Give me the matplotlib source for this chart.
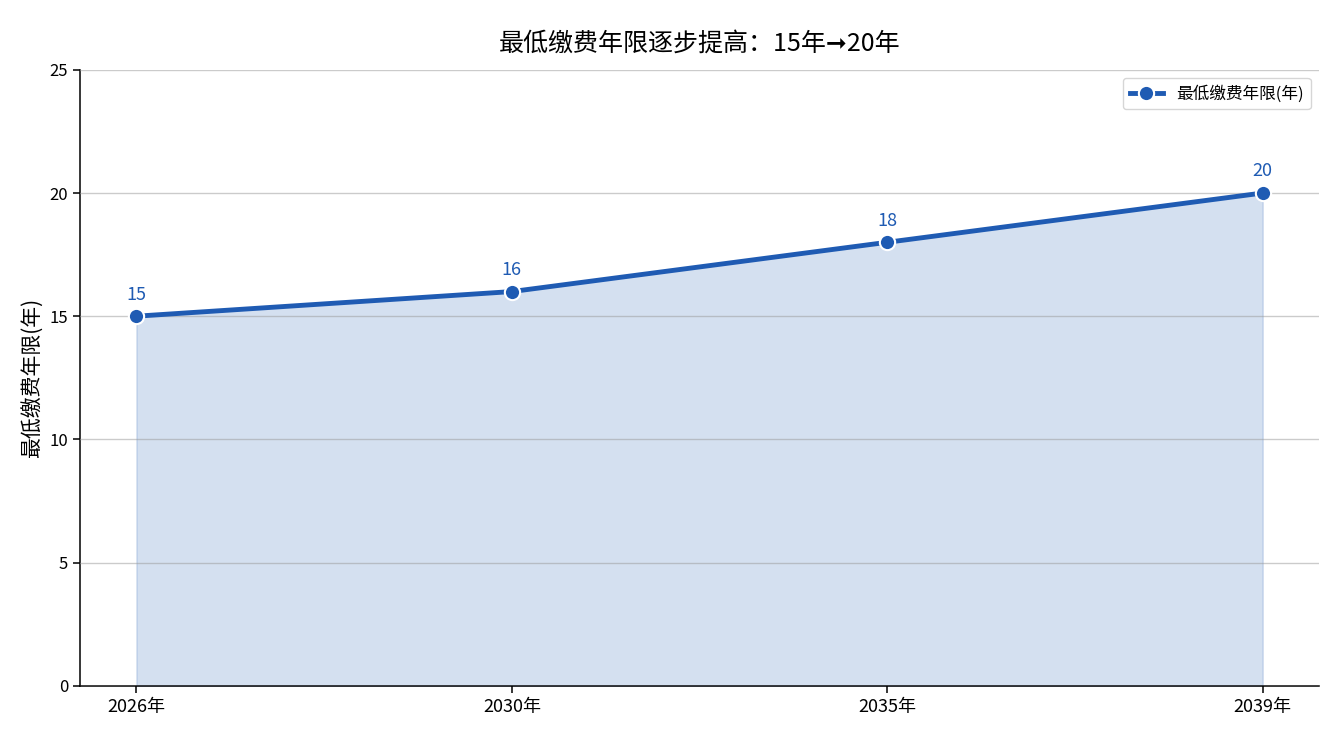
import matplotlib
matplotlib.use('Agg')
from matplotlib import pyplot as plt

plt.rcParams['font.family'] = ['Noto Sans CJK SC', 'DejaVu Sans']
plt.rcParams['axes.unicode_minus'] = False

years = ['2026年', '2030年', '2035年', '2039年']
min_years = [15, 16, 18, 20]
line_color = '#1f5bb3'

fig, ax = plt.subplots(figsize=(13.35, 7.35), dpi=100)
x = list(range(len(years)))

ax.fill_between(x, min_years, 0, color=line_color, alpha=0.19, zorder=1)
ax.plot(x, min_years, color=line_color, linewidth=3.5, marker='o', markersize=11,
        markeredgecolor='white', markeredgewidth=1.5, label='最低缴费年限(年)', zorder=3)

for xi, v in zip(x, min_years):
    ax.annotate(str(v), (xi, v), textcoords='offset points', xytext=(0, 12),
                ha='center', fontsize=13, color=line_color)

ax.set_xticks(x)
ax.set_xticklabels(years, fontsize=13)
ax.set_xlim(-0.15, 3.15)
ax.set_ylim(0, 25)
ax.set_yticks([0, 5, 10, 15, 20, 25])
ax.tick_params(axis='y', labelsize=12)
ax.tick_params(length=5, width=1.1)
ax.set_ylabel('最低缴费年限(年)', fontsize=15)
ax.set_title('最低缴费年限逐步提高：15年➞20年', fontsize=18, pad=14)

ax.grid(axis='y', color='#999999', alpha=0.5, linewidth=1.0, zorder=2)
ax.set_axisbelow(False)
ax.spines['top'].set_visible(False)
ax.spines['right'].set_visible(False)
ax.spines['left'].set_linewidth(1.1)
ax.spines['bottom'].set_linewidth(1.1)

ax.legend(loc='upper right', fontsize=12, frameon=True)

plt.subplots_adjust(left=0.06, right=0.988, top=0.905, bottom=0.067)
fig.savefig('out.png', dpi=100)
